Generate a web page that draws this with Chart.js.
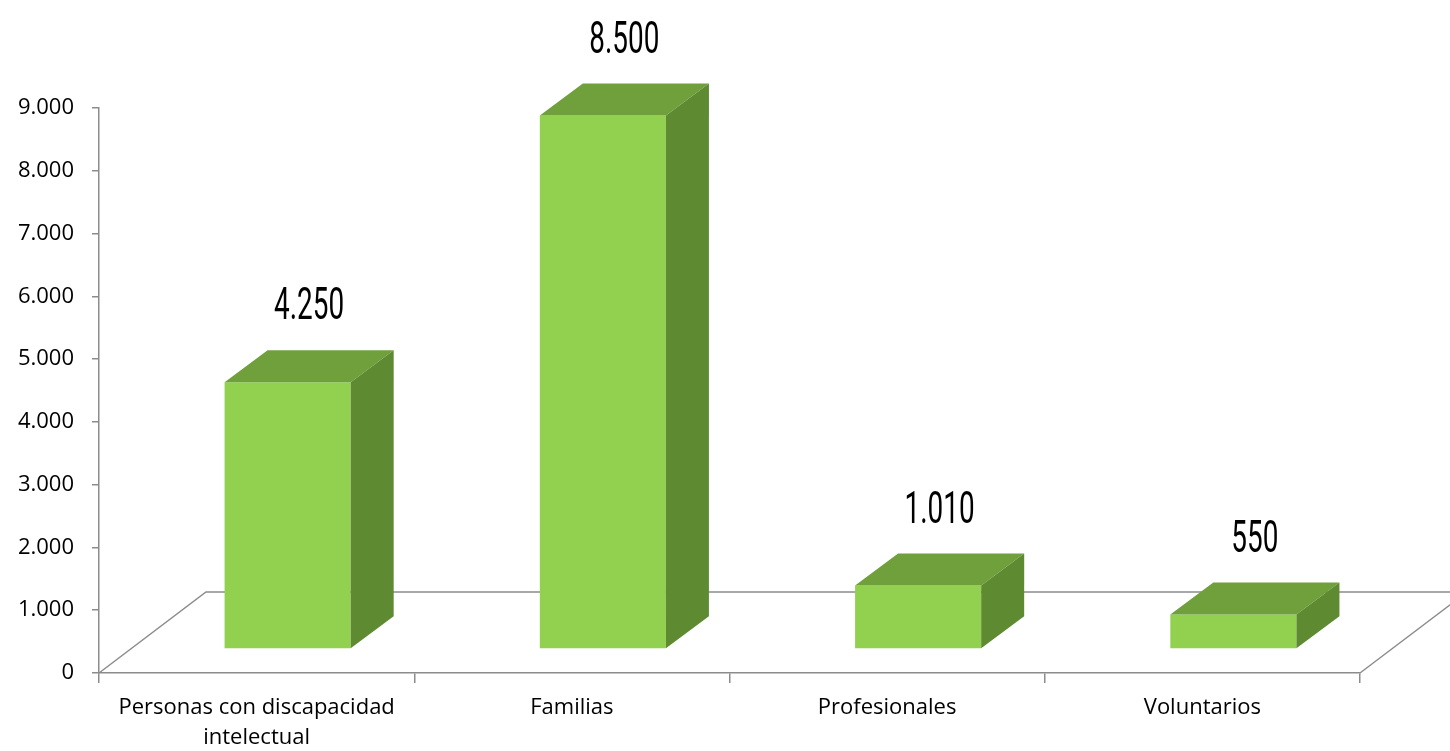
<!DOCTYPE html>
<html>
<head>
<meta charset="utf-8">
<script src="https://cdn.jsdelivr.net/npm/chart.js@4/dist/chart.umd.min.js"></script>
<style>
  html, body { margin: 0; padding: 0; background: #fff; }
  #grafico { display: block; }
</style>
</head>
<body>
<canvas id="grafico" width="1450" height="751"></canvas>
<script>
// datos
var categorias = [["Personas con discapacidad", "intelectual"], "Familias", "Profesionales", "Voluntarios"];
var valores = [4250, 8500, 1010, 550];
var etiquetas = ["4.250", "8.500", "1.010", "550"];
var ticksY = ["0", "1.000", "2.000", "3.000", "4.000", "5.000", "6.000", "7.000", "8.000", "9.000"];

// efecto 3D
var suelo = { dx: 107, dy: -81 };     // profundidad del suelo
var desplazar = { dx: 31, dy: -24 };  // cara frontal de las barras dentro del suelo
var fondo = { dx: 43, dy: -32 };      // profundidad de cada barra
var colorFrente = "#92d050";
var colorArriba = "#70a03c";
var colorLado = "#5e8a32";
var colorEje = "#8c8c8c";

var plugin3D = {
    id: "barras3d",
    beforeDatasetsDraw: function (chart) {
        // suelo en perspectiva
        var ctx = chart.ctx;
        var a = chart.chartArea;
        ctx.save();
        ctx.strokeStyle = colorEje;
        ctx.lineWidth = 1.5;
        ctx.beginPath();
        ctx.moveTo(a.left, a.bottom);
        ctx.lineTo(a.left + suelo.dx, a.bottom + suelo.dy);
        ctx.lineTo(a.right + suelo.dx, a.bottom + suelo.dy);
        ctx.moveTo(a.right, a.bottom);
        ctx.lineTo(a.right + suelo.dx, a.bottom + suelo.dy);
        ctx.stroke();
        ctx.restore();
    },
    beforeDatasetDraw: function (chart) {
        chart.ctx.save();
        chart.ctx.translate(desplazar.dx, desplazar.dy);
    },
    afterDatasetDraw: function (chart, args) {
        var ctx = chart.ctx;
        var meta = args.meta;
        meta.data.forEach(function (bar, i) {
            var izq = bar.x - bar.width / 2;
            var der = bar.x + bar.width / 2;
            // cara de arriba
            ctx.fillStyle = colorArriba;
            ctx.beginPath();
            ctx.moveTo(izq, bar.y);
            ctx.lineTo(izq + fondo.dx, bar.y + fondo.dy);
            ctx.lineTo(der + fondo.dx, bar.y + fondo.dy);
            ctx.lineTo(der, bar.y);
            ctx.closePath();
            ctx.fill();
            // cara lateral
            ctx.fillStyle = colorLado;
            ctx.beginPath();
            ctx.moveTo(der, bar.y);
            ctx.lineTo(der + fondo.dx, bar.y + fondo.dy);
            ctx.lineTo(der + fondo.dx, bar.base + fondo.dy);
            ctx.lineTo(der, bar.base);
            ctx.closePath();
            ctx.fill();
            // etiqueta de valor
            ctx.save();
            ctx.fillStyle = "#000";
            ctx.font = "400 45px Roboto, 'Liberation Sans Narrow', sans-serif";
            ctx.textAlign = "center";
            ctx.textBaseline = "middle";
            ctx.translate(bar.x + fondo.dx / 2, bar.y + fondo.dy - 42);
            ctx.scale(0.62, 1);
            ctx.fillText(etiquetas[i], 0, 0);
            ctx.restore();
        });
        ctx.restore();
    }
};

new Chart(document.getElementById("grafico").getContext("2d"), {
    type: "bar",
    data: {
        labels: categorias,
        datasets: [{
            data: valores,
            backgroundColor: colorFrente,
            borderWidth: 0,
            categoryPercentage: 0.8,
            barPercentage: 0.5
        }]
    },
    options: {
        responsive: false,
        animation: false,
        layout: { padding: { top: 108, right: 90, left: 0, bottom: 0 } },
        plugins: {
            legend: { display: false },
            tooltip: { enabled: false }
        },
        scales: {
            x: {
                grid: { offset: true, drawOnChartArea: false, tickLength: 10, color: colorEje, lineWidth: 1.5 },
                border: { color: colorEje, width: 1.5 },
                ticks: {
                    color: "#000",
                    font: { family: "'Open Sans', 'Noto Sans', sans-serif", size: 22, lineHeight: 1.35 },
                    maxRotation: 0,
                    autoSkip: false,
                    padding: 10
                },
                afterFit: function (scale) { scale.height = 78; }
            },
            y: {
                min: 0,
                max: 9000,
                grid: { drawOnChartArea: false, tickLength: 7, color: colorEje, lineWidth: 1.5 },
                border: { color: colorEje, width: 1.5 },
                ticks: {
                    stepSize: 1000,
                    color: "#000",
                    padding: 18,
                    font: { family: "'Open Sans', 'Noto Sans', sans-serif", size: 22 },
                    callback: function (v, i) { return ticksY[i]; }
                },
                afterFit: function (scale) { scale.width = 99; }
            }
        }
    },
    plugins: [plugin3D]
});
</script>
</body>
</html>
